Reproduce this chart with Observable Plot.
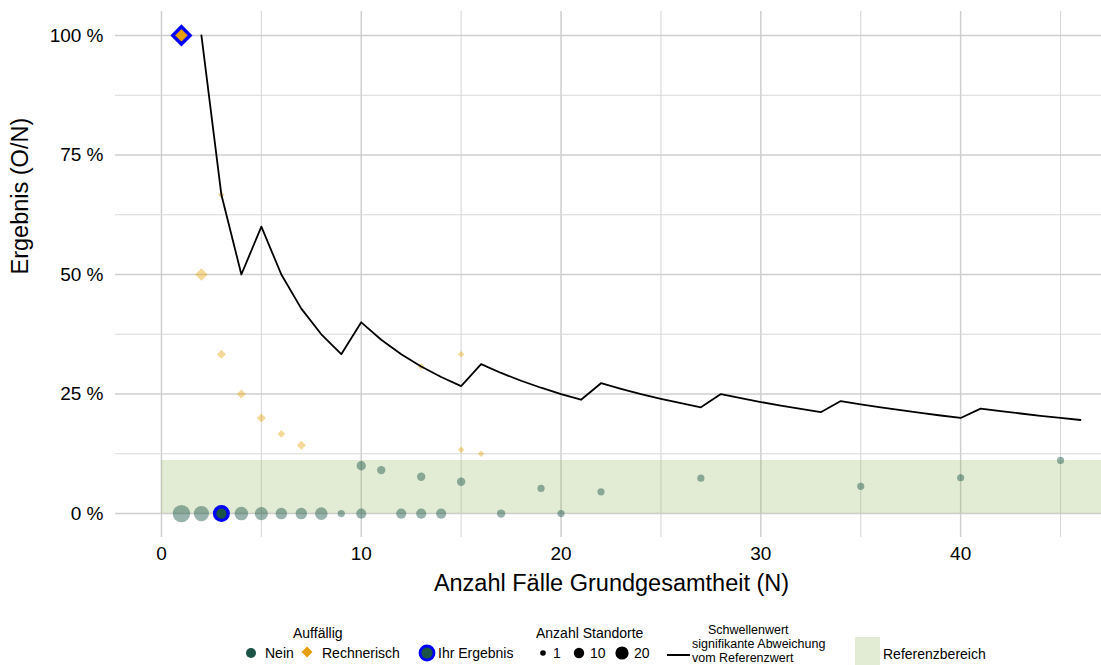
<!DOCTYPE html>
<html><head><meta charset="utf-8">
<script src="https://cdn.jsdelivr.net/npm/d3@7"></script>
<script src="https://cdn.jsdelivr.net/npm/@observablehq/plot@0.6"></script>
<style>
body{margin:0;background:#fff;font-family:"Liberation Sans",Arial,sans-serif;}
#wrap{position:relative;width:1101px;height:665px;overflow:hidden;background:#fff;}
.lg{position:absolute;font-size:14px;color:#000;white-space:nowrap;line-height:14px;}
.lg.t{font-size:12.5px;line-height:14px;}
</style></head><body><div id="wrap"><div id="chart"></div></div>
<script>
// ---- data ----
const noN     = [1, 2, 4, 5, 6, 7, 8, 9, 10, 10, 11, 12, 13, 13, 14, 15, 17, 19, 20, 22, 27, 35, 40, 45];
const noRate  = [0, 0, 0, 0, 0, 0, 0, 0, 0, 10.0, 9.09, 0, 0, 7.69, 0, 6.67, 0, 5.26, 0, 4.55, 7.41, 5.71, 7.5, 11.11];
const noCount = [20, 14, 10, 9, 6, 6, 8, 1, 4, 3, 2, 4, 4, 2, 4, 2, 2, 1, 1, 1, 1, 1, 1, 1];

const calcN     = [2, 3, 3, 4, 5, 6, 7, 13, 15, 15, 16];
const calcRate  = [50, 66.67, 33.33, 25, 20, 16.67, 14.29, 30.77, 33.33, 13.33, 12.5];
const calcCount = [11, 1, 4, 4, 4, 2, 4, 1, 1, 1, 1];

const ownN    = [1, 3];
const ownRate = [100, 0];
const ownType = ["Rechnerisch", "Nein"];

const thrN    = [2,3,4,5,6,7,8,9,10,11,12,13,14,15,16,17,18,19,20,21,22,23,24,25,26,27,28,29,30,31,32,33,34,35,36,37,38,39,40,41,42,43,44,45,46];
const thrRate = [100,66.67,50,60,50,42.86,37.5,33.33,40,36.36,33.33,30.77,28.57,26.67,31.25,29.41,27.78,26.32,25,23.81,27.27,26.09,25,24,23.08,22.22,25,24.14,23.33,22.58,21.88,21.21,23.53,22.86,22.22,21.62,21.05,20.51,20,21.95,21.43,20.93,20.45,20,19.57];

const refFrom = [0];
const refLo = [0];
const refHi = [11.1];

const xTicks = [0, 10, 20, 30, 40];
const xMinor = [5, 15, 25, 35, 45];
const yTicks = [0, 25, 50, 75, 100];
const yMinor = [12.5, 37.5, 62.5, 87.5];

const xTitle = "Anzahl Fälle Grundgesamtheit (N)";
const yTitle = "Ergebnis (O/N)";

// ---- build tables ----
const noData = noN.map((n, i) => ({n, rate: noRate[i], count: noCount[i]}));
const calcData = calcN.map((n, i) => ({n, rate: calcRate[i], count: calcCount[i]}));
const ownData = ownN.map((n, i) => ({n, rate: ownRate[i], type: ownType[i]}));
const thrData = thrN.map((n, i) => ({n, rate: thrRate[i]}));
const refData = refFrom.map((f, i) => ({from: f, lo: refLo[i], hi: refHi[i]}));

const green = "#1b5446", orange = "#E69F00", blue = "#0000ff";
const xDomain = [-2.3, 47.05];
const yDomain = [-5, 105];

const diamondSym = {draw(ctx, size) {
  const h = Math.sqrt(size / Math.PI) * 0.9;
  ctx.moveTo(0, -h); ctx.lineTo(h, 0); ctx.lineTo(0, h); ctx.lineTo(-h, 0); ctx.closePath();
}};

const W = 1101, H = 615;
const plot = Plot.plot({
  width: W, height: H,
  marginLeft: 115, marginRight: 0, marginTop: 11, marginBottom: H - 537,
  style: {fontFamily: '"Liberation Sans", Arial, sans-serif', fontSize: "19px", background: "#fff", color: "#000", overflow: "visible"},
  x: {domain: xDomain},
  y: {domain: yDomain},
  r: {type: "sqrt", domain: [1, 20], range: [3.6, 8.7]},
  marks: [
    Plot.ruleX(xMinor, {stroke: "#d8d8d8", strokeWidth: 1.1}),
    Plot.ruleX(xTicks, {stroke: "#cfcfcf", strokeWidth: 1.5}),
    Plot.ruleY(yMinor, {stroke: "#d8d8d8", strokeWidth: 1.1}),
    Plot.ruleY(yTicks, {stroke: "#cfcfcf", strokeWidth: 1.5}),
    Plot.rect(refData, {x1: "from", x2: () => xDomain[1], y1: "lo", y2: "hi", fill: "#8db556", fillOpacity: 0.25}),
    Plot.axisX({ticks: xTicks, tickSize: 0, tickPadding: 9, fontSize: 19, label: null}),
    Plot.axisY({ticks: yTicks, tickSize: 0, tickPadding: 12, tickFormat: d => d + " %", fontSize: 19, label: null}),
    Plot.dot(noData, {x: "n", y: "rate", r: "count", fill: green, fillOpacity: 0.45}),
    Plot.dot(calcData, {x: "n", y: "rate", r: "count", symbol: diamondSym, fill: orange, fillOpacity: 0.4}),
    Plot.line(thrData, {x: "n", y: "rate", stroke: "#000", strokeWidth: 1.8}),
    Plot.dot(ownData.filter(d => d.type === "Nein"), {x: "n", y: "rate", r: 6.8, fill: green, stroke: blue, strokeWidth: 3.4}),
    Plot.dot(ownData.filter(d => d.type === "Rechnerisch"), {x: "n", y: "rate", r: 9.6, symbol: diamondSym, fill: orange, stroke: blue, strokeWidth: 3.4}),
    Plot.text([xTitle], {frameAnchor: "bottom", dy: 53, dx: 3, fontSize: 23.5, text: d => d}),
    Plot.text([yTitle], {frameAnchor: "left", dx: -95, rotate: -90, fontSize: 23.5, text: d => d})
  ]
});
document.getElementById("chart").appendChild(plot);

// ---- legend (below the SVG) ----
const wrap = document.getElementById("wrap");
function label(txt, left, top, cls) {
  const d = document.createElement("div");
  d.className = "lg" + (cls ? " " + cls : ""); d.textContent = txt;
  d.style.left = left + "px"; d.style.top = top + "px";
  wrap.appendChild(d);
  return d;
}
const ns = "http://www.w3.org/2000/svg";
const lsvg = document.createElementNS(ns, "svg");
lsvg.setAttribute("width", 1101); lsvg.setAttribute("height", 50);
lsvg.style.position = "absolute"; lsvg.style.left = "0px"; lsvg.style.top = "615px";
wrap.appendChild(lsvg);
const Y0 = 615;
function el(tag, attrs) {
  const e = document.createElementNS(ns, tag);
  for (const k in attrs) e.setAttribute(k, attrs[k]);
  lsvg.appendChild(e);
}
el("circle", {cx: 251, cy: 653 - Y0, r: 5, fill: green});
el("path", {d: `M307,${646.5 - Y0}L312.5,${652 - Y0}L307,${657.5 - Y0}L301.5,${652 - Y0}Z`, fill: orange});
el("circle", {cx: 427, cy: 653 - Y0, r: 7, fill: green, stroke: blue, "stroke-width": 2.8});
el("circle", {cx: 543, cy: 653 - Y0, r: 2.8, fill: "#000"});
el("circle", {cx: 579, cy: 653 - Y0, r: 5.2, fill: "#000"});
el("circle", {cx: 622, cy: 653 - Y0, r: 6.6, fill: "#000"});
el("line", {x1: 667, x2: 690, y1: 655 - Y0, y2: 655 - Y0, stroke: "#000", "stroke-width": 2});
el("rect", {x: 855, y: 637 - Y0, width: 25, height: 30, fill: "#e2ecd4"});

label("Auffällig", 293, 626);
label("Nein", 265, 646);
label("Rechnerisch", 322, 646);
label("Ihr Ergebnis", 438, 646);
label("Anzahl Standorte", 536, 626);
label("1", 553, 646);
label("10", 590, 646);
label("20", 634, 646);
label("Schwellenwert", 708, 623, "t");
label("signifikante Abweichung", 692, 637, "t");
label("vom Referenzwert", 692, 651, "t");
label("Referenzbereich", 883, 647);
</script></body></html>
